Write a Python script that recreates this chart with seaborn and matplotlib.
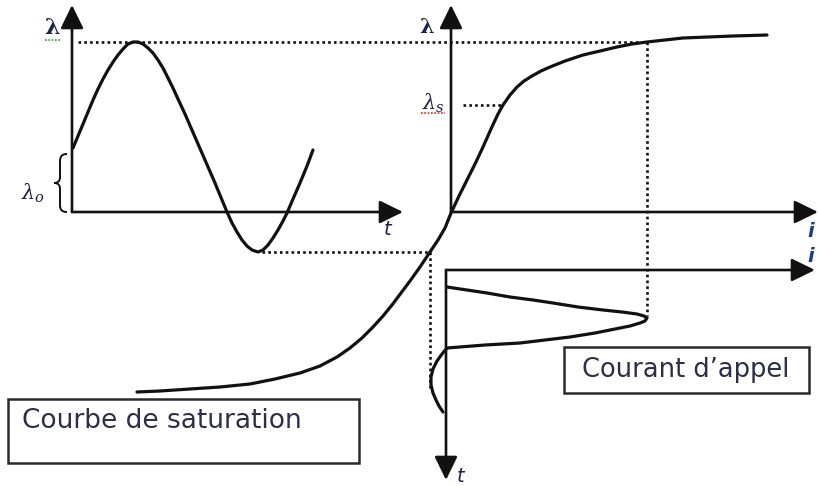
import numpy as np
import matplotlib
matplotlib.use("Agg")
import matplotlib.pyplot as plt
from matplotlib.path import Path
from matplotlib.patches import PathPatch, Rectangle
import seaborn as sns

# --- curves, in drawing units (x to the right, y downward) ---
# flux versus time (left panel)
flux_t = [73, 78, 83, 88, 93, 98, 103, 108, 113, 118, 123, 128, 133, 138, 143, 148,
          153, 158, 163, 168, 173, 178, 185, 195, 205, 215, 222, 227, 232, 237, 242,
          247, 252, 258, 263, 268, 273, 278, 283, 287, 293, 300, 307, 313]
flux_y = [148, 136, 124, 112, 100, 89, 79, 70, 62, 55, 49, 44, 42, 42, 44, 48,
          53, 60, 68, 78, 88, 99, 114, 137, 160, 183, 200, 212, 223, 232, 240,
          246, 250, 252, 250, 245, 238, 230, 221, 213, 199, 183, 166, 150]

# saturation curve lambda(i)
sat_i = [137, 160, 190, 220, 250, 275, 300, 320, 337, 350, 362, 373, 383, 392, 401,
         410, 420, 430, 438, 445, 451, 459, 467, 475, 483, 491, 498, 503, 510, 517,
         524, 532, 541, 550, 565, 583, 600, 617, 632, 647, 665, 683, 708, 733, 767]
sat_y = [392, 391, 389, 387, 384, 379, 373, 366, 357, 348, 338, 327, 316, 305, 293,
         281, 267, 252, 240, 228, 213, 196, 180, 164, 147, 129, 114, 105, 95, 87,
         81, 76, 71, 67, 61, 55, 51, 47, 44, 42, 40, 38, 37, 36, 35]

# inrush current i(t) (bottom panel, time running downward)
cur_i = [447, 467, 487, 510, 533, 553, 578, 603, 622, 637, 644, 647, 645, 640, 630,
         620, 595, 570, 545, 520, 485, 447, 442, 437, 433, 431, 431, 433, 436, 439, 443]
cur_t = [287, 290, 293, 297, 300, 303, 307, 310, 312, 314, 316, 318, 321, 323, 326,
         328, 333, 337, 340, 343, 345, 348, 354, 361, 369, 377, 385, 393, 400, 406, 412]

# axes origins and arrow tips
flux_origin = (72, 212)
sat_origin = (451, 212)
cur_origin = (446, 270)
flux_y_tip, flux_t_tip = 5, 403
sat_y_tip, sat_i_tip = 5, 818
cur_i_tip, cur_t_tip = 815, 480
lambda_s_level = 105

sns.set_style("white")
plt.rcParams["font.family"] = ["DejaVu Sans"]
plt.rcParams["mathtext.fontset"] = "dejavuserif"

fig = plt.figure(figsize=(8.18, 4.86), dpi=100)
ax = fig.add_axes([0, 0, 1, 1])
ax.set_xlim(0, 818)
ax.set_ylim(486, 0)
ax.axis("off")

INK = "#111111"
DOT = dict(color=INK, lw=1.9, linestyle=(0, (1.0, 1.2)), dash_capstyle="butt")


def arrow(x0, y0, x1, y1):
    ax.annotate("", xy=(x1, y1), xytext=(x0, y0),
                arrowprops=dict(arrowstyle="-|>,head_length=0.45,head_width=0.22",
                                mutation_scale=32, lw=1.9, color=INK,
                                shrinkA=0, shrinkB=0))


# coordinate axes
arrow(flux_origin[0], flux_origin[1], flux_origin[0], flux_y_tip)
arrow(flux_origin[0], flux_origin[1], flux_t_tip, flux_origin[1])
arrow(sat_origin[0], sat_origin[1], sat_origin[0], sat_y_tip)
arrow(sat_origin[0], sat_origin[1], sat_i_tip, sat_origin[1])
arrow(cur_origin[0], cur_origin[1], cur_i_tip, cur_origin[1])
arrow(cur_origin[0], cur_origin[1], cur_origin[0], cur_t_tip)

# projection guides derived from the curves
peak_k = int(np.argmin(flux_y))
trough_k = int(np.argmax(flux_y))
tip_k = int(np.argmax(cur_i))
lam_max = flux_y[peak_k]
lam_min = flux_y[trough_k]
i_peak = cur_i[tip_k]
sat_at_min = sat_i[sat_y.index(lam_min)]

ax.plot([flux_origin[0] + 6, i_peak], [lam_max, lam_max], **DOT)
ax.plot([i_peak, i_peak], [lam_max, cur_t[tip_k] - 2], **DOT)
ax.plot([flux_t[trough_k] + 4, sat_at_min], [lam_min, lam_min], **DOT)
ax.plot([sat_at_min, sat_at_min], [lam_min, 388], **DOT)
ax.plot([sat_origin[0] + 12, sat_i[sat_y.index(lambda_s_level)]],
        [lambda_s_level, lambda_s_level], **DOT)

# curves
for xs, ys in ((flux_t, flux_y), (sat_i, sat_y), (cur_i, cur_t)):
    sns.lineplot(x=xs, y=ys, sort=False, estimator=None, color=INK, lw=2.3,
                 ax=ax, solid_joinstyle="round", solid_capstyle="round")

# brace marking lambda_0
bx = flux_origin[0] - 12
verts = [(bx + 7, 154), (bx + 2, 154), (bx, 156), (bx, 162),
         (bx, 177),
         (bx, 181), (bx - 2, 183), (bx - 6, 183),
         (bx - 2, 183), (bx, 185), (bx, 189),
         (bx, 205),
         (bx, 210), (bx + 2, 212), (bx + 7, 212)]
codes = [Path.MOVETO, Path.CURVE4, Path.CURVE4, Path.CURVE4,
         Path.LINETO,
         Path.CURVE4, Path.CURVE4, Path.CURVE4,
         Path.CURVE4, Path.CURVE4, Path.CURVE4,
         Path.LINETO,
         Path.CURVE4, Path.CURVE4, Path.CURVE4]
ax.add_patch(PathPatch(Path(verts, codes), fill=False, lw=1.4, color=INK))

# labels
LBL = "#1d2448"
ax.text(52, 28, "λ", fontsize=16, family="DejaVu Serif", weight="bold",
        color=LBL, ha="center", va="center")
ax.plot([45, 60], [40, 40], color="#2e9a2e", lw=1.2, linestyle=(0, (1, 1)))
ax.text(33, 193, r"$\lambda_o$", fontsize=15, color=LBL, ha="center", va="center")
ax.text(427, 27, "λ", fontsize=15, family="DejaVu Serif", weight="bold",
        color=LBL, ha="center", va="center")
ax.text(433, 103, r"$\lambda_s$", fontsize=15, color=LBL, ha="center", va="center")
ax.plot([421, 445], [113, 113], color="#e02020", lw=1.2, linestyle=(0, (1, 1)))
ax.text(388, 229, "t", fontsize=14, style="italic", color=LBL, ha="center", va="center")
ax.text(461, 476, "t", fontsize=14, style="italic", color=LBL, ha="center", va="center")
ax.text(811, 231, "i", fontsize=14, style="italic", weight="bold", color="#1b3b8c",
        ha="center", va="center")
ax.text(811, 256, "i", fontsize=14, style="italic", weight="bold", color="#1b3b8c",
        ha="center", va="center")

# caption boxes
ax.add_patch(Rectangle((8, 399), 351, 64, fill=False, lw=1.8, ec="#2a2a2a"))
ax.text(22, 421, "Courbe de saturation", fontsize=19, color="#2c2f45",
        ha="left", va="center")
ax.add_patch(Rectangle((564, 347), 245, 46, fill=False, lw=1.8, ec="#2a2a2a"))
ax.text(686, 370, "Courant d’appel", fontsize=18.5, color="#2c2f45",
        ha="center", va="center")

fig.savefig("out.png", dpi=100)
